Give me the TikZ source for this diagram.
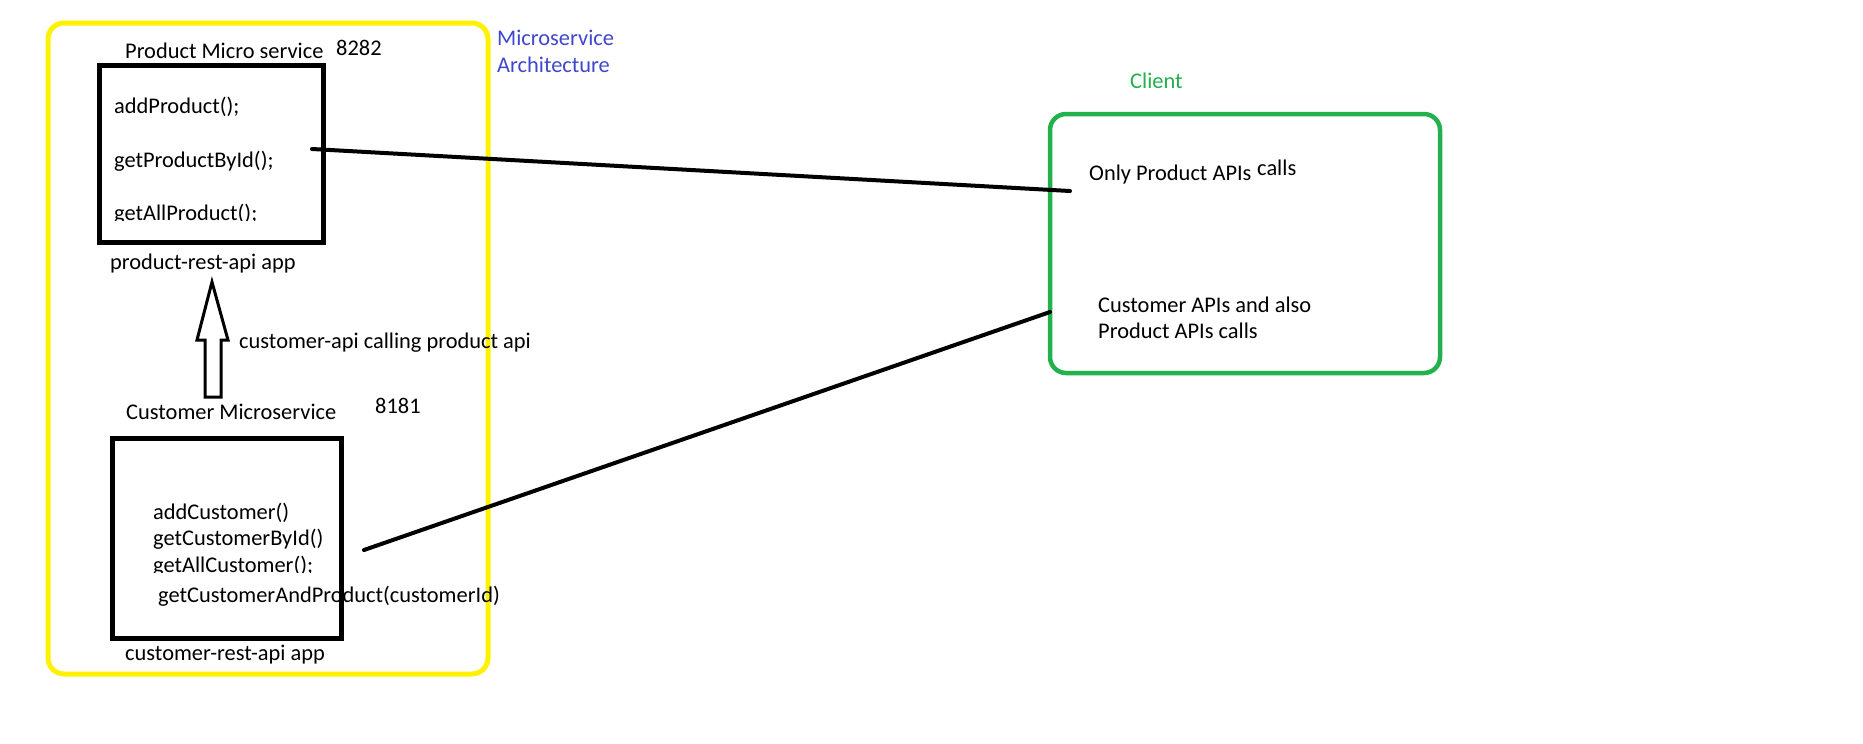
\documentclass[tikz,border=0pt]{standalone}
\usepackage{fontspec}
\setmainfont{Carlito}
\definecolor{pyellow}{HTML}{FFF200}
\definecolor{pgreen}{HTML}{22B14C}
\definecolor{pblue}{HTML}{3F48CC}
\begin{document}
\begin{tikzpicture}[x=1pt,y=-1pt,
  txt/.style={anchor=base west, inner sep=0pt, font=\fontsize{22.4}{26}\selectfont},
  svcbox/.style={draw=black, line width=4.5pt, anchor=north west, inner sep=0pt},
  group/.style={line width=5pt, rounded corners=16pt},
  link/.style={draw=black, line width=4pt, line cap=round}]
\useasboundingbox[fill=white] (0,0) rectangle (1863,744);
% yellow group
\draw[group, draw=pyellow] (48,23) rectangle (488,674);
% green client
\draw[group, draw=pgreen, line width=4.5pt] (1050,114) rectangle (1440,373);
% boxes
\node[svcbox, minimum width=224pt, minimum height=177pt] (prodbox) at (97,63) {};
\node[svcbox, minimum width=229pt, minimum height=200pt] (custbox) at (110,436) {};
% product texts
\node[txt] (ptitle) at (125,58) {Product Micro service};
\node[txt] (pport) at (336,55) {8282};
\node[txt] (padd) at (114,113) {addProduct();};
\node[txt] (pget) at (114,167) {getProductById();};
\begin{scope}
\clip (100,190) rectangle (318,220.5);
\node[txt] (pall) at (114,220) {getAllProduct();};
\end{scope}
\node[txt] (papp) at (110,269) {product-rest-api app};
% arrow
\coordinate (atip) at (212,282);
\draw[line width=3pt, line join=miter] (atip) -- (228,340) -- (221,340) -- (221,397) -- (205,397) -- (205,340) -- (197,340) -- cycle;
\node[txt] (acall) at (239,348) {customer-api calling product api};
% blue label
\node[txt, text=pblue] (arch1) at (497,45) {Microservice};
\node[txt, text=pblue] (arch2) at (497,72) {Architecture};
% customer texts
\node[txt] (ctitle) at (126,419) {Customer Microservice};
\node[txt] (cport) at (375,413) {8181};
\node[txt] (cadd) at (153,519) {addCustomer()};
\node[txt] (cget) at (153,545) {getCustomerById()};
\begin{scope}
\clip (140,550) rectangle (336,572.5);
\node[txt] (call) at (153,572) {getAllCustomer();};
\end{scope}
\node[txt] (cgcp) at (158,602) {getCustomerAndProduct(customerId)};
\node[txt] (capp) at (125,660) {customer-rest-api app};
% client
\node[txt, text=pgreen] (client) at (1130,88) {Client};
\node[txt] (only) at (1089,180) {Only Product APIs};
\node[txt] (onlycalls) at (1257,175) {calls};
\node[txt] (both1) at (1098,312) {Customer APIs and also};
\node[txt] (both2) at (1098,338) {Product APIs calls};
% connectors
\coordinate (p1) at (312,149);
\coordinate (p2) at (1070,191);
\coordinate (c1) at (364,550);
\coordinate (c2) at (1050,312);
\draw[link] (p1) -- (p2);
\draw[link] (c1) -- (c2);
\end{tikzpicture}
\end{document}
